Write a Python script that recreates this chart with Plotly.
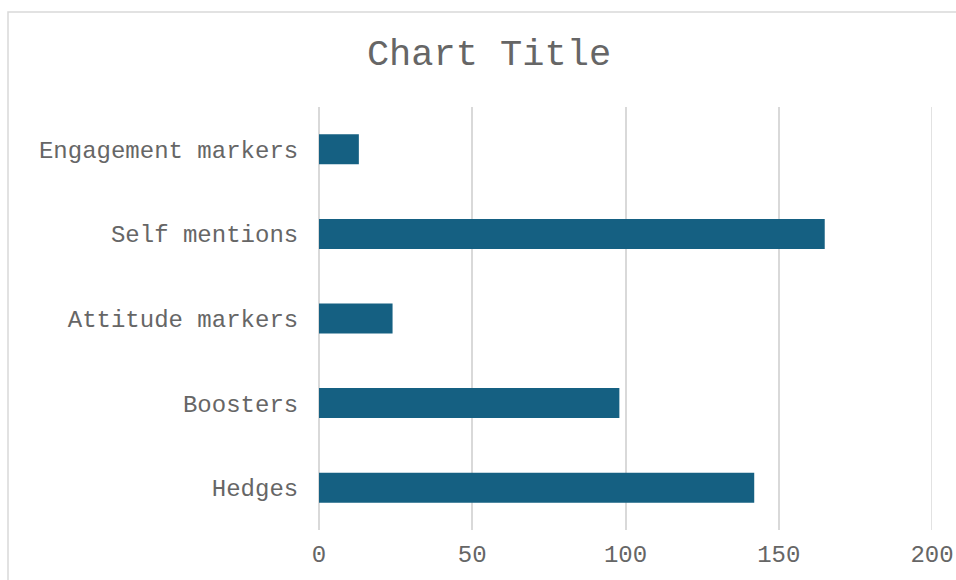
import plotly.graph_objects as go

# Category labels (bottom to top) and counts
categories = ["Hedges", "Boosters", "Attitude markers", "Self mentions", "Engagement markers"]
counts = [142, 98, 24, 165, 13]
x_ticks = [0, 50, 100, 150, 200]

W, H = 956, 580
ML, MR, MT, MB = 319, 24, 107, 50
plot_w = W - ML - MR
plot_h = H - MT - MB

font_family = "Liberation Mono, Courier New, monospace"
text_color = "#666666"
grid_color = "#d9d9d9"

fig = go.Figure(
    go.Bar(
        x=counts,
        y=categories,
        orientation="h",
        marker=dict(color="#156082", line=dict(width=0)),
        hoverinfo="x+y",
    )
)

# Chart-area frame (runs off the right and bottom edges)
fx0 = (8 - ML) / plot_w
fy1 = (H - MB - 12) / plot_h
fig.add_shape(
    type="rect", xref="paper", yref="paper",
    x0=fx0, x1=2.0, y0=-1.0, y1=fy1,
    line=dict(color=grid_color, width=1.5), fillcolor="rgba(0,0,0,0)",
    layer="below",
)

# Gridline at the axis maximum (Plotly skips the one on the range edge)
fig.add_shape(
    type="line", xref="x", yref="paper",
    x0=x_ticks[-1], x1=x_ticks[-1], y0=0, y1=1,
    line=dict(color=grid_color, width=1.5), layer="below",
)

fig.update_layout(
    width=W, height=H,
    margin=dict(l=ML, r=MR, t=MT, b=MB, pad=0, autoexpand=False),
    paper_bgcolor="white", plot_bgcolor="white",
    bargap=0.645,
    showlegend=False,
    font=dict(family=font_family, color=text_color, size=24),
    title=dict(
        text="Chart Title",
        font=dict(family=font_family, size=37, color=text_color),
        x=489 / W, xanchor="center", xref="container",
        y=1 - 52 / H, yanchor="middle", yref="container",
    ),
    xaxis=dict(
        range=[0, 200], tickvals=x_ticks, ticktext=[str(v) for v in x_ticks],
        showgrid=True, gridcolor=grid_color, gridwidth=1.5,
        zeroline=True, zerolinecolor=grid_color, zerolinewidth=1.5,
        showline=False, ticks="outside", ticklen=2, tickcolor="rgba(0,0,0,0)",
        tickfont=dict(family=font_family, size=24, color=text_color),
        automargin=False, fixedrange=True,
    ),
    yaxis=dict(
        categoryorder="array", categoryarray=categories,
        showgrid=False, zeroline=False, showline=False,
        ticks="outside", ticklen=15, tickcolor="rgba(0,0,0,0)",
        tickfont=dict(family=font_family, size=24, color=text_color),
        automargin=False, fixedrange=True,
    ),
)

fig.write_html("out.html")
